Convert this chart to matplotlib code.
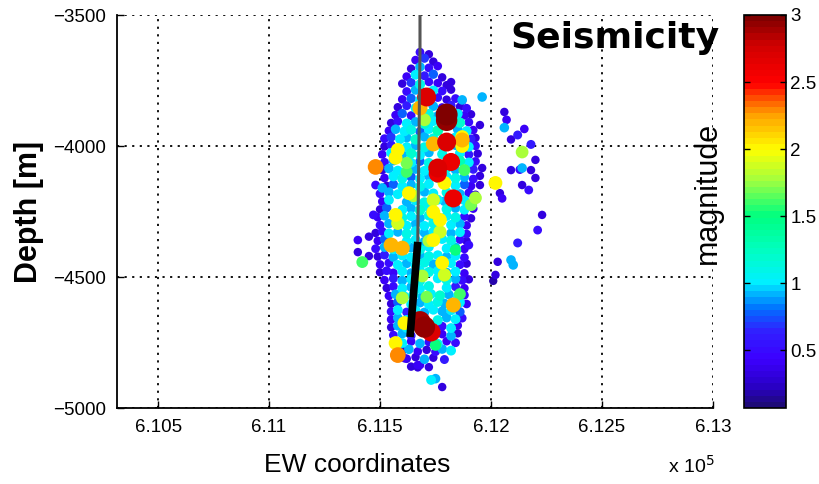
import matplotlib
matplotlib.use("Agg")
import matplotlib.pyplot as plt
import numpy as np
from matplotlib import font_manager
from matplotlib.colors import LinearSegmentedColormap

# ---------------- data ----------------
# EW coordinate (x 10^5 m), depth (m), magnitude
ew = [
    6.1168, 6.1172,
    6.1166, 6.1170, 6.1174,
    6.1164, 6.1168, 6.1172, 6.1176,
    6.1162, 6.1166, 6.1170, 6.1174, 6.1178,
    6.1160, 6.1164, 6.1168, 6.1172, 6.1176, 6.1180,
    6.1162, 6.1166, 6.1170, 6.1174, 6.1178, 6.1182,
    6.1160, 6.1164, 6.1168, 6.1176, 6.1180, 6.1184, 6.1187,
    6.1158, 6.1162, 6.1166, 6.1174, 6.1178, 6.1182, 6.1186, 6.1189,
    6.1157, 6.1160, 6.1164, 6.1172, 6.1176, 6.1185, 6.1188, 6.1191,
    6.1155, 6.1158, 6.1162, 6.1166, 6.1170, 6.1174, 6.1186, 6.1190,
    6.1154, 6.1157, 6.1161, 6.1164, 6.1168, 6.1172, 6.1176, 6.1185, 6.1189, 6.1192,
    6.1152, 6.1155, 6.1159, 6.1162, 6.1166, 6.1170, 6.1174, 6.1184, 6.1191, 6.1193,
    6.1152, 6.1155, 6.1162, 6.1166, 6.1170, 6.1174, 6.1178, 6.1184, 6.1190, 6.1193,
    6.1151, 6.1155, 6.1160, 6.1164, 6.1168, 6.1172, 6.1178, 6.1186, 6.1190, 6.1194,
    6.1152, 6.1156, 6.1164, 6.1168, 6.1172, 6.1186, 6.1190, 6.1193,
    6.1151, 6.1154, 6.1158, 6.1166, 6.1170, 6.1180, 6.1184, 6.1192,
    6.1152, 6.1156, 6.1160, 6.1164, 6.1168, 6.1172, 6.1176, 6.1180, 6.1184, 6.1188, 6.1192, 6.1195,
    6.1153, 6.1156, 6.1160, 6.1164, 6.1168, 6.1172, 6.1184, 6.1188, 6.1191, 6.1195,
    6.1150, 6.1154, 6.1158, 6.1162, 6.1166, 6.1170, 6.1174, 6.1180, 6.1186, 6.1190, 6.1193,
    6.1151, 6.1154, 6.1162, 6.1166, 6.1170, 6.1176, 6.1179, 6.1188, 6.1192,
    6.1150, 6.1153, 6.1160, 6.1164, 6.1168, 6.1172, 6.1180, 6.1184, 6.1188, 6.1192,
    6.1149, 6.1152, 6.1160, 6.1164, 6.1168, 6.1172, 6.1176, 6.1180, 6.1184, 6.1188, 6.1191,
    6.1150, 6.1154, 6.1162, 6.1166, 6.1170, 6.1174, 6.1182, 6.1186, 6.1189,
    6.1148, 6.1151, 6.1154, 6.1158, 6.1162, 6.1166, 6.1170, 6.1174, 6.1182, 6.1186, 6.1189,
    6.1149, 6.1152, 6.1162, 6.1166, 6.1170, 6.1178, 6.1182, 6.1186, 6.1189,
    6.1148, 6.1152, 6.1156, 6.1164, 6.1168, 6.1172, 6.1180, 6.1184, 6.1188,
    6.1149, 6.1152, 6.1156, 6.1160, 6.1164, 6.1168, 6.1172, 6.1176, 6.1180, 6.1184, 6.1188,
    6.1150, 6.1154, 6.1158, 6.1162, 6.1166, 6.1170, 6.1174, 6.1182, 6.1186, 6.1189,
    6.1150, 6.1153, 6.1156, 6.1160, 6.1164, 6.1168, 6.1172, 6.1176, 6.1180, 6.1184, 6.1188,
    6.1152, 6.1156, 6.1160, 6.1164, 6.1168, 6.1176, 6.1180, 6.1184, 6.1187, 6.1190,
    6.1153, 6.1156, 6.1160, 6.1164, 6.1168, 6.1172, 6.1180, 6.1184, 6.1188,
    6.1154, 6.1157, 6.1161, 6.1165, 6.1169, 6.1173, 6.1177, 6.1181, 6.1185, 6.1188,
    6.1155, 6.1158, 6.1164, 6.1168, 6.1172, 6.1176, 6.1179, 6.1186, 6.1189,
    6.1155, 6.1158, 6.1162, 6.1166, 6.1170, 6.1174, 6.1178, 6.1182, 6.1186,
    6.1155, 6.1158, 6.1162, 6.1166, 6.1176, 6.1180, 6.1184, 6.1187,
    6.1155, 6.1158, 6.1162, 6.1178, 6.1182, 6.1185,
    6.1156, 6.1160, 6.1164, 6.1178, 6.1182, 6.1185,
    6.1160, 6.1164, 6.1168, 6.1172, 6.1176, 6.1180, 6.1184,
    6.1160, 6.1163, 6.1167, 6.1171, 6.1175, 6.1178, 6.1182,
    6.1162, 6.1166, 6.1170, 6.1174, 6.1179,
    6.1164, 6.1167, 6.1172,
    # larger events
    6.1171, 6.1180, 6.1180, 6.1180, 6.1187, 6.1187, 6.1174, 6.1168, 6.1170,
    6.1176, 6.1176, 6.1182, 6.1158, 6.1157, 6.1148, 6.1162, 6.1188, 6.1179,
    6.1183, 6.1193, 6.1191, 6.1165, 6.1174, 6.1157, 6.1158, 6.1174, 6.1177,
    6.1177, 6.1174, 6.1155, 6.1160, 6.1172, 6.1142, 6.1184, 6.1178, 6.1179,
    6.1169, 6.1186, 6.1171, 6.1160, 6.1183, 6.1161, 6.1170, 6.1168, 6.1173,
    6.1157, 6.1158, 6.1175, 6.1162, 6.1163, 6.1187,
    # outliers east
    6.1196, 6.1195, 6.1206, 6.1207, 6.1206, 6.1215, 6.1212, 6.1209, 6.1218,
    6.1214, 6.1220, 6.1213, 6.1209, 6.1214, 6.1218, 6.1220, 6.1214, 6.1217,
    6.1202, 6.1204, 6.1205, 6.1223, 6.1221, 6.1212, 6.1203, 6.1209, 6.1210,
    6.1202, 6.1201, 6.1196, 6.1190, 6.1187, 6.1182,
    # outliers west and bottom
    6.1140, 6.1145, 6.1140, 6.1147, 6.1148, 6.1151, 6.1145,
    6.1173, 6.1175, 6.1178, 6.1168, 6.1167, 6.1161,
]
depth = [
    -3642, -3650,
    -3672, -3665, -3678,
    -3705, -3698, -3702, -3695,
    -3735, -3728, -3732, -3726, -3738,
    -3762, -3758, -3765, -3755, -3760, -3768,
    -3792, -3786, -3795, -3788, -3790, -3785,
    -3822, -3818, -3825, -3815, -3823, -3819, -3828,
    -3852, -3846, -3855, -3848, -3853, -3845, -3850, -3856,
    -3882, -3876, -3884, -3878, -3885, -3877, -3883, -3879,
    -3912, -3906, -3914, -3908, -3915, -3905, -3911, -3909,
    -3942, -3936, -3944, -3938, -3945, -3935, -3941, -3937, -3943, -3939,
    -3972, -3966, -3974, -3968, -3975, -3965, -3971, -3967, -3973, -3969,
    -4002, -3996, -4004, -3998, -4005, -3995, -4001, -3997, -4003, -3999,
    -4032, -4026, -4034, -4028, -4035, -4025, -4031, -4027, -4033, -4029,
    -4062, -4056, -4064, -4058, -4065, -4057, -4063, -4059,
    -4092, -4086, -4094, -4088, -4095, -4085, -4091, -4089,
    -4122, -4116, -4124, -4118, -4125, -4115, -4121, -4117, -4123, -4119, -4126, -4114,
    -4152, -4146, -4154, -4148, -4155, -4145, -4151, -4147, -4153, -4149,
    -4182, -4176, -4184, -4178, -4185, -4175, -4181, -4177, -4183, -4179, -4186,
    -4212, -4206, -4214, -4208, -4215, -4205, -4211, -4207, -4213,
    -4242, -4236, -4244, -4238, -4245, -4235, -4241, -4237, -4243, -4239,
    -4272, -4266, -4274, -4268, -4275, -4265, -4271, -4267, -4273, -4269, -4276,
    -4302, -4296, -4304, -4298, -4305, -4295, -4301, -4297, -4303,
    -4332, -4326, -4334, -4328, -4335, -4325, -4331, -4327, -4333, -4329, -4336,
    -4362, -4356, -4364, -4358, -4365, -4355, -4361, -4357, -4363,
    -4392, -4386, -4394, -4388, -4395, -4385, -4391, -4387, -4393,
    -4422, -4416, -4424, -4418, -4425, -4415, -4421, -4417, -4423, -4419, -4426,
    -4452, -4446, -4454, -4448, -4455, -4445, -4451, -4447, -4453, -4449,
    -4482, -4476, -4484, -4478, -4485, -4475, -4481, -4477, -4483, -4479, -4486,
    -4512, -4506, -4514, -4508, -4515, -4505, -4511, -4507, -4513, -4509,
    -4542, -4536, -4544, -4538, -4545, -4535, -4541, -4537, -4543,
    -4572, -4566, -4574, -4568, -4575, -4565, -4571, -4567, -4573, -4569,
    -4602, -4596, -4604, -4598, -4605, -4595, -4601, -4597, -4603,
    -4632, -4626, -4634, -4628, -4635, -4625, -4631, -4627, -4633,
    -4662, -4656, -4664, -4658, -4665, -4655, -4661, -4657,
    -4692, -4686, -4694, -4688, -4695, -4685,
    -4722, -4716, -4724, -4718, -4725, -4715,
    -4752, -4746, -4754, -4748, -4755, -4745, -4751,
    -4782, -4776, -4784, -4778, -4785, -4775, -4781,
    -4812, -4806, -4814, -4808, -4815,
    -4842, -4836, -4844,
    # larger events
    -3813, -3880, -3902, -3985, -3977, -4000, -3992, -3855, -3900,
    -4084, -4105, -4061, -4015, -4045, -4080, -4099, -4092, -4141,
    -4200, -4198, -4225, -4190, -4206, -4263, -4295, -4252, -4282,
    -4328, -4359, -4378, -4390, -4362, -4443, -4397, -4446, -4492,
    -4496, -4565, -4576, -4580, -4607, -4676, -4691, -4670, -4710,
    -4752, -4798, -4760, -4065, -4180, -3966,
    # outliers east
    -3813, -3920, -3870, -3900, -3930, -3935, -3958, -3975, -3994,
    -4023, -4053, -4090, -4092, -4084, -4092, -4122, -4149, -4168,
    -4141, -4180, -4200, -4263, -4321, -4370, -4442, -4435, -4454,
    -4492, -4515, -4084, -4378, -3824, -3756,
    # outliers west and bottom
    -4359, -4346, -4405, -4263, -4149, -4160, -4420,
    -4893, -4888, -4920, -4836, -4845, -4810,
]
mag = [
    0.5, 0.3,
    0.4, 0.7, 0.3,
    0.3, 0.9, 0.5, 0.4,
    0.4, 1.0, 0.6, 0.8, 0.3,
    0.3, 0.7, 1.1, 0.5, 0.4, 0.3,
    0.5, 0.9, 0.4, 1.0, 0.5, 0.3,
    0.4, 0.8, 1.0, 0.5, 0.3, 0.5, 0.3,
    0.3, 0.6, 1.0, 0.9, 0.4, 0.6, 0.3, 0.5,
    0.4, 0.8, 0.5, 1.1, 0.9, 1.0, 0.4, 0.3,
    0.3, 0.5, 1.0, 0.9, 1.2, 1.0, 1.2, 0.5,
    0.4, 0.9, 1.0, 1.1, 0.8, 1.0, 1.3, 0.9, 1.0, 0.4,
    0.5, 0.7, 1.0, 0.9, 1.2, 0.9, 1.1, 1.0, 0.6, 0.3,
    0.3, 0.6, 1.0, 0.9, 1.1, 0.8, 1.0, 0.9, 1.0, 0.5,
    0.4, 1.0, 0.9, 1.2, 1.0, 0.9, 1.1, 1.0, 0.6, 0.3,
    0.5, 0.9, 1.0, 0.8, 1.1, 1.3, 1.0, 0.5,
    0.3, 0.9, 1.0, 0.9, 1.0, 1.1, 0.9, 0.6,
    0.4, 1.0, 1.1, 0.8, 1.0, 0.9, 1.2, 1.0, 1.1, 0.9, 0.5, 0.3,
    0.3, 0.8, 1.0, 0.9, 1.1, 1.0, 1.0, 0.8, 0.4, 0.3,
    0.5, 0.9, 1.0, 1.1, 1.0, 0.9, 1.0, 1.1, 0.9, 0.5, 0.3,
    0.4, 1.0, 0.9, 1.0, 1.1, 1.0, 0.9, 1.0, 0.4,
    0.3, 0.8, 1.0, 0.9, 1.2, 1.0, 1.1, 0.9, 1.0, 0.4,
    0.4, 0.9, 1.1, 1.0, 0.9, 1.1, 0.9, 1.0, 1.1, 0.5, 0.3,
    0.5, 0.9, 1.0, 0.9, 1.0, 1.1, 1.0, 0.9, 0.4,
    0.3, 0.5, 1.0, 0.9, 1.1, 1.0, 0.9, 1.0, 0.9, 1.0, 0.5,
    0.4, 0.8, 1.0, 1.0, 0.9, 1.0, 1.1, 0.5, 0.3,
    0.5, 0.9, 1.0, 0.9, 1.1, 1.0, 1.0, 0.9, 0.4,
    0.3, 0.6, 0.9, 1.0, 1.0, 0.9, 1.1, 1.0, 0.9, 1.0, 0.5,
    0.4, 0.5, 1.0, 0.9, 1.0, 1.1, 0.9, 1.0, 0.5, 0.3,
    0.3, 0.5, 0.4, 1.0, 0.9, 1.0, 1.1, 1.0, 0.9, 1.0, 0.4,
    0.4, 0.6, 0.9, 1.0, 1.1, 1.0, 1.1, 0.9, 0.5, 0.3,
    0.3, 0.5, 1.0, 0.9, 1.0, 1.1, 1.0, 0.6, 0.4,
    0.4, 0.9, 1.0, 1.1, 0.9, 1.0, 1.2, 0.9, 1.0, 0.5,
    0.3, 0.8, 1.0, 0.9, 1.0, 1.1, 0.9, 1.0, 0.4,
    0.5, 1.0, 0.6, 1.0, 0.9, 1.0, 0.9, 1.0, 0.8,
    0.4, 0.9, 1.0, 0.6, 1.1, 0.9, 1.0, 0.5,
    0.3, 0.9, 1.0, 0.5, 1.0, 0.4,
    0.5, 0.9, 0.6, 0.4, 0.9, 0.3,
    1.0, 0.4, 0.9, 0.5, 1.0, 0.4, 0.5,
    0.3, 0.9, 0.4, 0.3, 0.5, 0.9, 1.0,
    0.4, 0.3, 0.9, 0.3, 0.6,
    0.3, 0.4, 0.3,
    # larger events
    2.7, 3.0, 2.95, 2.7, 2.2, 2.0, 2.2, 2.2, 1.8,
    2.7, 2.6, 2.6, 2.0, 2.0, 2.3, 1.6, 1.6, 2.0,
    2.6, 1.8, 1.7, 1.8, 1.9, 2.0, 1.9, 2.0, 2.0,
    1.9, 2.0, 2.2, 2.2, 1.8, 1.6, 1.5, 2.0, 1.9,
    1.8, 1.6, 1.7, 1.8, 2.2, 2.0, 2.95, 2.9, 2.7,
    2.0, 2.3, 1.5, 1.7, 2.0, 2.0,
    # outliers east
    0.9, 0.3, 0.3, 0.4, 0.9, 0.4, 0.6, 0.3, 0.6,
    1.8, 0.3, 0.5, 0.3, 0.9, 0.3, 0.3, 0.3, 0.5,
    2.0, 0.3, 0.4, 0.3, 0.5, 0.6, 0.3, 0.9, 0.9,
    0.3, 0.2, 0.3, 0.5, 0.9, 0.3,
    # outliers west and bottom
    0.4, 0.3, 0.3, 0.5, 0.5, 0.9, 0.3,
    1.0, 0.9, 0.3, 0.4, 0.3, 0.4,
]

# well trajectory
well_ew = [6.1168, 6.1168, 6.1167, 6.11635]
well_depth = [-3500, -3640, -4366, -4729]
screen_ew = [6.1167, 6.11635]          # stimulated open-hole section
screen_depth = [-4366, -4729]

x_ticks = [6.105, 6.11, 6.115, 6.12, 6.125, 6.13]
x_ticklabels = ["6.105", "6.11", "6.115", "6.12", "6.125", "6.13"]
y_ticks = [-5000, -4500, -4000, -3500]
y_ticklabels = ["\u22125000", "\u22124500", "\u22124000", "\u22123500"]
cb_ticks = [0.5, 1, 1.5, 2, 2.5, 3]
cb_ticklabels = ["0.5", "1", "1.5", "2", "2.5", "3"]

# ---------------- fonts ----------------
def have(name):
    try:
        font_manager.findfont(name, fallback_to_default=False)
        return True
    except Exception:
        return False

narrow = "Liberation Sans Narrow" if have("Liberation Sans Narrow") else "Liberation Sans"
tick_fs = 15 if narrow == "Liberation Sans Narrow" else 13.5

# jet-like colormap as rendered in the reference (purple-ish blues)
cmap = LinearSegmentedColormap.from_list("seis", [
    (0.00, "#1e0a78"), (0.05, "#2a00c8"), (0.12, "#3c00ff"), (0.19, "#3020ff"),
    (0.25, "#0070ff"), (0.317, "#00f0ff"), (0.40, "#00ffc0"), (0.488, "#00ff80"),
    (0.58, "#a0ff40"), (0.659, "#ffff00"), (0.75, "#ffa000"), (0.80, "#ff4000"),
    (0.83, "#ff0000"), (0.93, "#d00000"), (1.00, "#800000")], N=64)

# ---------------- figure ----------------
W, H = 819, 484
fig = plt.figure(figsize=(W / 100, H / 100), dpi=100)
ax = fig.add_axes([117 / W, 1 - 408 / H, 596 / W, 393 / H])
cax = fig.add_axes([744 / W, 1 - 408 / H, 42 / W, 393 / H])

ew_a = np.array(ew)
dp_a = np.array(depth)
mg_a = np.array(mag)
order = np.argsort(mg_a, kind="stable")
d_px = 8 + 1.5 * mg_a + 0.35 * mg_a ** 3
sizes = (d_px * 0.72) ** 2

vmin, vmax = 0.07, 3.0
sc = ax.scatter(ew_a[order], dp_a[order], c=mg_a[order], s=sizes[order],
                cmap=cmap, vmin=vmin, vmax=vmax, edgecolors="none", zorder=3)

ax.plot(well_ew, well_depth, color="#555555", lw=2.2, zorder=4, solid_capstyle="butt")
ax.plot(screen_ew, screen_depth, color="black", lw=5.5, zorder=5, solid_capstyle="butt")

ax.set_xlim(6.10315, 6.13)
ax.set_ylim(-5000, -3500)
ax.set_xticks(x_ticks)
ax.set_xticklabels(x_ticklabels, fontname=narrow, fontsize=tick_fs)
ax.set_yticks(y_ticks)
ax.set_yticklabels(y_ticklabels, fontname=narrow, fontsize=tick_fs)
ax.tick_params(direction="in", length=5, width=1, top=False, right=False, pad=8)
ax.grid(True, color="black", linestyle=(0, (1.2, 3.0)), linewidth=1.3)
ax.set_axisbelow(True)
for s in ["top", "right"]:
    ax.spines[s].set_visible(False)
for s in ["left", "bottom"]:
    ax.spines[s].set_linewidth(1.3)

cb = fig.colorbar(sc, cax=cax)
cb.set_ticks(cb_ticks)
cb.set_ticklabels(cb_ticklabels)
cb.ax.tick_params(direction="in", length=4, width=1, labelsize=tick_fs, pad=3, left=True, right=True)
for lbl in cb.ax.get_yticklabels():
    lbl.set_fontname(narrow)
cb.outline.set_linewidth(1.2)

fig.text(510 / W, 1 - 48 / H, "Seismicity", fontname="DejaVu Sans", fontweight="bold",
         fontsize=26, ha="left", va="baseline")
fig.text(29 / W, 1 - 212 / H, "Depth [m]", fontname="Liberation Sans", fontweight="bold",
         fontsize=22, rotation=90, ha="center", va="center")
fig.text(357 / W, 1 - 472 / H, "EW coordinates", fontname=narrow, fontsize=19,
         ha="center", va="baseline")
fig.text(668 / W, 1 - 473 / H, r"x 10$^{5}$", fontname=narrow, fontsize=14,
         ha="left", va="baseline")
fig.text(708 / W, 1 - 193 / H, "magnitude", fontname="Liberation Sans", fontsize=22,
         rotation=90, ha="center", va="center")

fig.savefig("out.png", dpi=100)
